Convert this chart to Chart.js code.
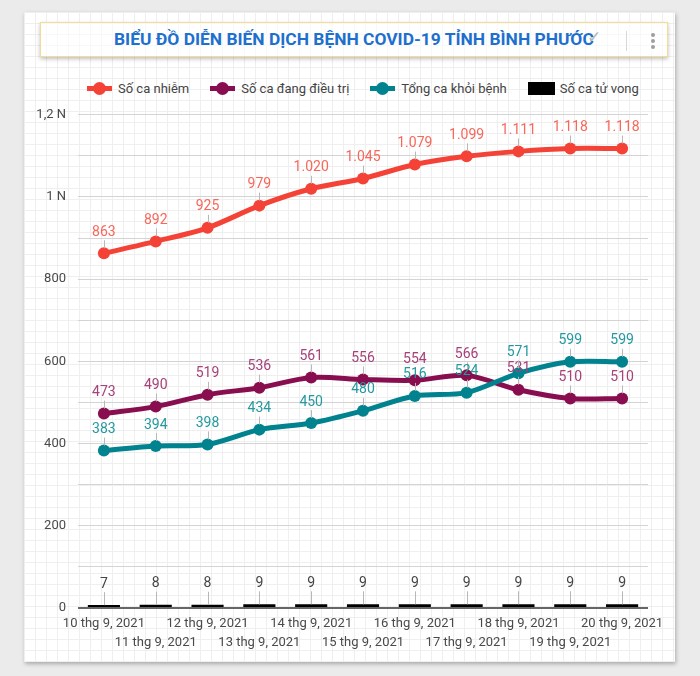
<!DOCTYPE html>
<html lang="vi">
<head>
<meta charset="utf-8">
<title>Biểu đồ diễn biến dịch bệnh COVID-19 tỉnh Bình Phước</title>
<script src="https://cdn.jsdelivr.net/npm/chart.js@4.4.1/dist/chart.umd.min.js"></script>
<style>
  html, body { margin: 0; padding: 0; background: #ebebeb; overflow: hidden; }
  body { width: 700px; height: 676px; position: relative; font-family: Roboto, "Noto Sans", sans-serif; }
  #card {
    position: absolute; left: 24px; top: 12px; width: 651px; height: 650px;
    background-color: #fff;
    background-image: linear-gradient(#efefef 1px, transparent 1px),
                      linear-gradient(90deg, #efefef 1px, transparent 1px);
    background-size: 11px 11px;
    box-shadow: 1px 2px 4px rgba(0,0,0,0.28);
  }
  #titleBox {
    position: absolute; left: 16px; top: 10px; width: 626px; height: 33px;
    border: 1px solid #f3dc93; background: rgba(255,255,255,0.55);
    box-shadow: 0 2px 4px rgba(0,0,0,0.25);
  }
  #title {
    position: absolute; left: 0; right: 0; top: 6px; text-align: center;
    font-weight: bold; font-size: 17.4px; color: #1e6fce; white-space: nowrap;
  }
  #check { position: absolute; left: 546px; top: 4px; color: #b5b5b5; font-size: 17px; }
  #divider { position: absolute; left: 585px; top: 8px; width: 1px; height: 20px; background: #d8d8d8; }
  #kebab { position: absolute; left: 610px; top: 10px; width: 4px; }
  #kebab i { display: block; width: 4px; height: 4px; border-radius: 2px; background: #9e9e9e; margin-bottom: 2px; }
  #legend { position: absolute; left: 63px; top: 68px; height: 16px; display: flex; align-items: center;
    font-size: 13px; color: #444; white-space: nowrap; }
  .item { display: flex; align-items: center; margin-right: 21px; }
  .mk { position: relative; width: 25px; height: 14px; margin-right: 6px; }
  .mk .ln { position: absolute; left: 0; top: 5px; width: 25px; height: 5px; }
  .mk .dot { position: absolute; left: 6px; top: 1px; width: 13px; height: 13px; border-radius: 50%; }
  .box { width: 27px; height: 13px; background: #000; margin-right: 5px; }
  #wrap { position: absolute; left: 0; top: 83px; width: 651px; height: 565px; }
</style>
</head>
<body>
<div id="card">
  <div id="titleBox">
    <div id="title">BIỂU ĐỒ DIỄN BIẾN DỊCH BỆNH COVID-19 TỈNH BÌNH PHƯỚC</div>
    <div id="check">✓</div>
    <div id="divider"></div>
    <div id="kebab"><i></i><i></i><i></i></div>
  </div>
  <div id="legend"></div>
  <div id="wrap"><canvas id="chart"></canvas></div>
</div>
<script>
// Dữ liệu
const labels = [
  "10 thg 9, 2021", "11 thg 9, 2021", "12 thg 9, 2021", "13 thg 9, 2021",
  "14 thg 9, 2021", "15 thg 9, 2021", "16 thg 9, 2021", "17 thg 9, 2021",
  "18 thg 9, 2021", "19 thg 9, 2021", "20 thg 9, 2021"
];
const soCaNhiem   = [863, 892, 925, 979, 1020, 1045, 1079, 1099, 1111, 1118, 1118];
const dangDieuTri = [473, 490, 519, 536, 561, 556, 554, 566, 531, 510, 510];
const khoiBenh    = [383, 394, 398, 434, 450, 480, 516, 524, 571, 599, 599];
const tuVong      = [7, 8, 8, 9, 9, 9, 9, 9, 9, 9, 9];

const seriesNames = ["Số ca nhiễm", "Số ca đang điều trị", "Tổng ca khỏi bệnh", "Số ca tử vong"];
const yLabelValues = [0, 200, 400, 600, 800, 1000, 1200];

const RED = "#f44336", PURPLE = "#880e4f", TEAL = "#00838f";

/** 1020 -> "1.020" */
function fmtVi(v){
  return String(v).replace(/\B(?=(\d{3})+(?!\d))/g, ".");
}

/** Trục Y: 1200 -> "1,2 N" */
function fmtAxis(v){
  if (v >= 1000) return String(v / 1000).replace(".", ",") + " N";
  return String(v);
}

// Chú giải HTML
(function buildLegend(){
  const colors = [RED, PURPLE, TEAL, "#000"];
  const el = document.getElementById("legend");
  seriesNames.forEach((name, i) => {
    const item = document.createElement("div");
    item.className = "item";
    if (i < 3) {
      item.innerHTML = `<div class="mk"><div class="ln" style="background:${colors[i]}"></div>` +
        `<div class="dot" style="background:${colors[i]}"></div></div><span>${name}</span>`;
    } else {
      item.innerHTML = `<div class="box"></div><span>${name}</span>`;
    }
    el.appendChild(item);
  });
})();

/** Nhãn giá trị với đường dẫn nhỏ */
const valueLabels = {
  id: "valueLabels",
  afterDatasetsDraw(chart){
    const ctx = chart.ctx;
    ctx.save();
    chart.data.datasets.forEach((ds, i) => {
      const meta = chart.getDatasetMeta(i);
      const isBar = meta.type === "bar";
      meta.data.forEach((el, j) => {
        const x = el.x, y = el.y;
        const ly = y - 21;
        ctx.strokeStyle = "#b8b8b8";
        ctx.lineWidth = 1;
        ctx.beginPath();
        ctx.moveTo(Math.round(x) + 0.5, ly + 8);
        ctx.lineTo(Math.round(x) + 0.5, isBar ? y : y - 5);
        ctx.stroke();
        ctx.font = "14px Roboto";
        ctx.textAlign = "center";
        ctx.textBaseline = "middle";
        ctx.fillStyle = ds.labelColor;
        ctx.fillText(fmtVi(ds.data[j]), x, ly);
      });
    });
    ctx.restore();
  }
};

function lineSet(name, data, color, labelColor, order){
  return {
    type: "line",
    label: name,
    data,
    borderColor: color,
    backgroundColor: color,
    borderWidth: 5,
    pointRadius: 6,
    pointBorderWidth: 0,
    pointHoverRadius: 6,
    tension: 0.3,
    labelColor,
    order
  };
}

new Chart(document.getElementById("chart"), {
  data: {
    labels,
    datasets: [
      lineSet(seriesNames[0], soCaNhiem, RED, "#f7675a", 0),
      lineSet(seriesNames[1], dangDieuTri, PURPLE, "#a6417a", 2),
      lineSet(seriesNames[2], khoiBenh, TEAL, "#23999f", 1),
      {
        type: "bar",
        label: seriesNames[3],
        data: tuVong,
        backgroundColor: "#000",
        barPercentage: 0.62,
        categoryPercentage: 1,
        labelColor: "#444",
        order: 3
      }
    ]
  },
  options: {
    responsive: true,
    maintainAspectRatio: false,
    animation: false,
    layout: { padding: { top: 7, right: 27, left: 0, bottom: 0 } },
    plugins: { legend: { display: false }, tooltip: { enabled: false } },
    scales: {
      x: {
        offset: true,
        grid: { display: false },
        border: { display: false },
        ticks: {
          autoSkip: false,
          maxRotation: 0,
          minRotation: 0,
          padding: -1,
          color: "#4a4a4a",
          font: { family: "Roboto", size: 13, lineHeight: 1.4 },
          callback: (v, i) => (i % 2 === 0 ? [labels[i]] : ["", labels[i]])
        },
        afterFit: s => { s.height = 52; }
      },
      y: {
        min: 0,
        max: 1200,
        border: { display: false },
        grid: {
          drawTicks: false,
          color: c => (c.tick.value === 0 ? "#666" : "#d4d4d4"),
          lineWidth: c => (c.tick.value === 0 ? 2 : 1)
        },
        ticks: {
          stepSize: 100,
          padding: 12,
          color: "#4a4a4a",
          font: { family: "Roboto", size: 13 },
          callback: v => (yLabelValues.includes(v) ? fmtAxis(v) : "")
        },
        afterFit: s => { s.width = 54; }
      }
    }
  },
  plugins: [valueLabels]
});
</script>
</body>
</html>
